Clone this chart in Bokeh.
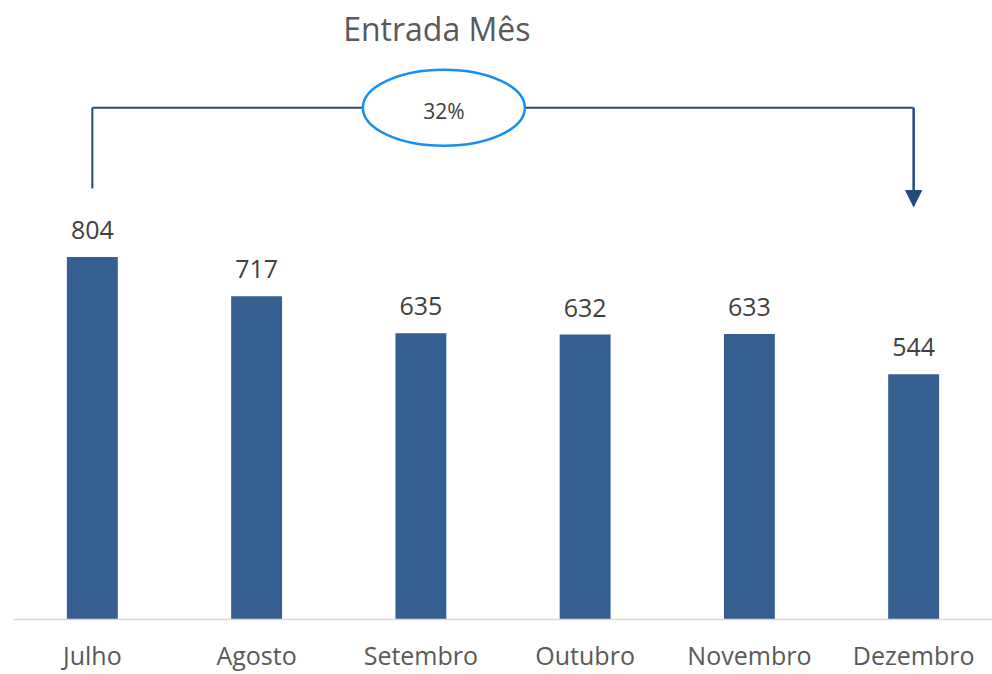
from bokeh.plotting import figure
from bokeh.models import Range1d, Arrow, NormalHead, ColumnDataSource
from bokeh.core.properties import value
from bokeh.embed import file_html
from bokeh.resources import INLINE

# ---- data ----
months = ["Julho", "Agosto", "Setembro", "Outubro", "Novembro", "Dezembro"]
entradas = [804, 717, 635, 632, 633, 544]
title_text = "Entrada Mês"
change_label = "32%"

# annotation levels (data units)
bracket_y = 1135
left_leg_bottom = 956
arrow_tip_y = 916

BAR = "#365F91"
LINE = "#24497F"
FONT = value("Open Sans")

p = figure(x_range=months, y_range=Range1d(0, 1373),
           width=992, height=674,
           min_border_left=13, min_border_right=0, min_border_top=0,
           min_border_bottom=52,
           output_backend="svg", toolbar_location=None)
p.x_range.range_padding = -0.02
p.x_range.range_padding_units = "absolute"
p.background_fill_color = "white"
p.border_fill_color = "white"
p.outline_line_color = None
p.grid.visible = False
p.yaxis.visible = False

xa = p.xaxis[0]
xa.axis_line_color = "#D9D9D9"
xa.axis_line_width = 1.5
xa.major_tick_line_color = None
xa.minor_tick_line_color = None
xa.major_tick_out = 0
xa.major_tick_in = 0
xa.major_label_text_font = "Open Sans"
xa.major_label_text_font_size = "25px"
xa.major_label_text_color = "#595959"
xa.major_label_standoff = 18

src = ColumnDataSource(dict(m=months, v=entradas, lbl=[str(v) for v in entradas]))
p.vbar(x="m", top="v", width=0.31, source=src, fill_color=BAR, line_color=None)
p.text(x="m", y="v", text="lbl", source=src, text_align="center",
       text_baseline="alphabetic", y_offset=-27, text_font=FONT,
       text_font_size="25px", text_color="#404040")

# title
p.text(x=[months[2]], y=[1291], text=[title_text], x_offset=16, y_offset=-9,
       text_align="center", text_baseline="alphabetic", text_font=FONT,
       text_font_size="32px", text_color="#595959")

# bracket annotation
first, last = months[0], months[-1]
p.segment(x0=[first], y0=[left_leg_bottom], x1=[first], y1=[bracket_y],
          line_color=LINE, line_width=2)
p.segment(x0=[first], y0=[bracket_y], x1=[last], y1=[bracket_y],
          line_color=LINE, line_width=2)
p.add_layout(Arrow(end=NormalHead(size=16, fill_color=LINE, line_color=LINE),
                   x_start=5.5, y_start=bracket_y, x_end=5.5, y_end=arrow_tip_y,
                   line_color=LINE, line_width=2.5))
ell_x = 2.64
p.ellipse(x=[ell_x], y=[bracket_y], width=162, height=76,
          width_units="screen", height_units="screen",
          fill_color="white", line_color="#168EF5", line_width=2.5)
p.text(x=[ell_x], y=[bracket_y], text=[change_label], y_offset=3,
       text_align="center", text_baseline="middle", text_font=FONT,
       text_font_size="21px", text_color="#404040")

open("out.html", "w").write(file_html(p, INLINE))
